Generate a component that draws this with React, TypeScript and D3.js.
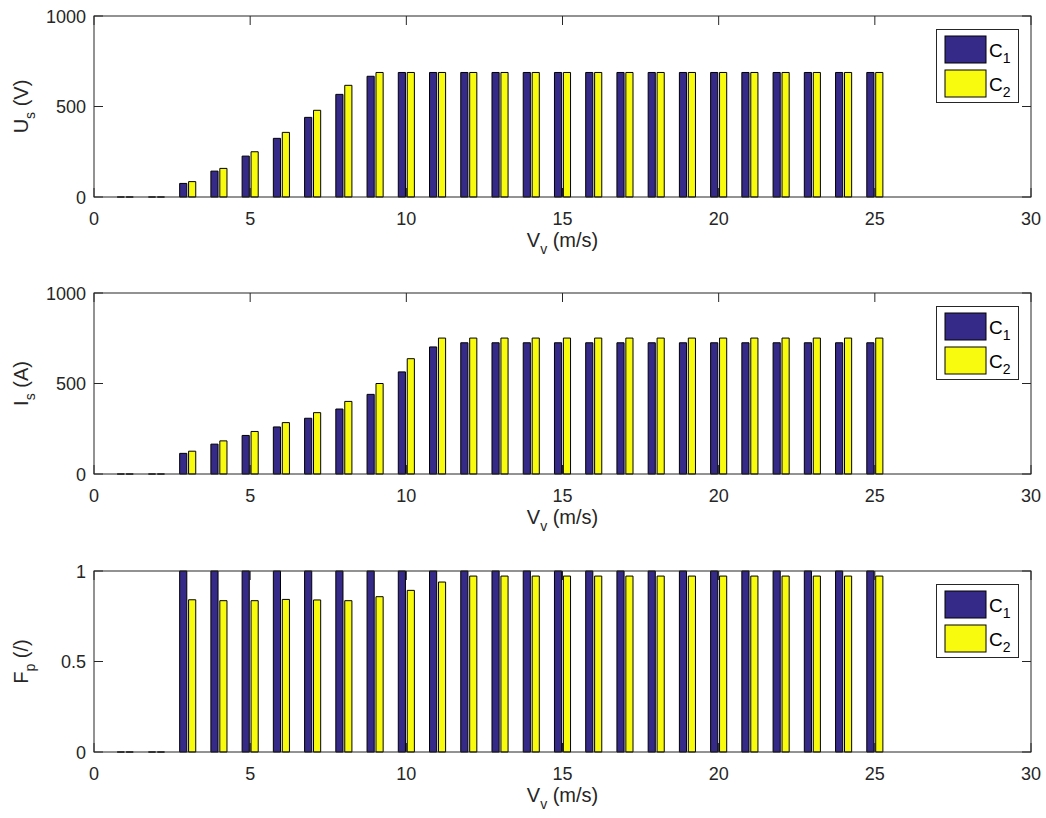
import React from "react";
import * as d3 from "d3";

const speeds = [1, 2, 3, 4, 5, 6, 7, 8, 9, 10, 11, 12, 13, 14, 15, 16, 17, 18, 19, 20, 21, 22, 23, 24, 25];

const usC1 = [0, 0, 75, 143, 226, 324, 440, 567, 667, 688, 688, 688, 688, 688, 688, 688, 688, 688, 688, 688, 688, 688, 688, 688, 688];
const usC2 = [0, 0, 85, 158, 250, 357, 479, 617, 688, 688, 688, 688, 688, 688, 688, 688, 688, 688, 688, 688, 688, 688, 688, 688, 688];

const isC1 = [0, 0, 114, 165, 213, 260, 308, 359, 440, 564, 702, 725, 725, 725, 725, 725, 725, 725, 725, 725, 725, 725, 725, 725, 725];
const isC2 = [0, 0, 126, 183, 235, 284, 339, 401, 500, 637, 751, 751, 751, 751, 751, 751, 751, 751, 751, 751, 751, 751, 751, 751, 751];

const fpC1 = [0, 0, 1, 1, 1, 1, 1, 1, 1, 1, 1, 1, 1, 1, 1, 1, 1, 1, 1, 1, 1, 1, 1, 1, 1];
const fpC2 = [0, 0, 0.841, 0.836, 0.836, 0.843, 0.84, 0.836, 0.858, 0.893, 0.939, 0.972, 0.972, 0.972, 0.972, 0.972, 0.972, 0.972, 0.972, 0.972, 0.972, 0.972, 0.972, 0.972, 0.972];

const xTicks = [0, 5, 10, 15, 20, 25, 30];
const seriesNames = ["C", "C"];
const seriesSubs = ["1", "2"];
const colors = ["#352a87", "#f9fb0e"];

const panels = [
  { top: 16, yMax: 1000, yTicks: [0, 500, 1000], yLab: "U", ySub: "s", yUnit: " (V)", s1: usC1, s2: usC2 },
  { top: 293, yMax: 1000, yTicks: [0, 500, 1000], yLab: "I", ySub: "s", yUnit: " (A)", s1: isC1, s2: isC2 },
  { top: 571, yMax: 1, yTicks: [0, 0.5, 1], yLab: "F", ySub: "p", yUnit: " (/)", s1: fpC1, s2: fpC2 },
];

const W = 1046;
const H = 818;
const left = 94;
const right = 1031;
const ph = 181;
const axisColor = "#262626";
const font = "'Liberation Sans', Arial, Helvetica, sans-serif";

const x = d3.scaleLinear().domain([0, 30]).range([left, right]);
const barW = 0.229;
const offs = [-0.143, 0.143];

function Panel({ p }: { p: typeof panels[number] }) {
  const y = d3.scaleLinear().domain([0, p.yMax]).range([p.top + ph, p.top]);
  const bottom = p.top + ph;
  const series = [p.s1, p.s2];
  const bars: JSX.Element[] = [];
  series.forEach((vals, si) => {
    vals.forEach((v, i) => {
      const cx = speeds[i] + offs[si];
      const x0 = x(cx - barW / 2);
      const x1 = x(cx + barW / 2);
      const y0 = y(0);
      const y1 = y(v);
      bars.push(
        <path
          key={`${si}-${i}`}
          d={`M${x0},${y0}V${y1}H${x1}V${y0}Z`}
          fill={colors[si]}
          stroke="#000"
          strokeWidth={1}
        />
      );
    });
  });
  const fmt = (v: number) => String(v);
  const legX = 936.5;
  const legY = p.top + 13.5;
  return (
    <g>
      {/* ticks */}
      {xTicks.map((t) => (
        <g key={`xt${t}`}>
          <line x1={x(t)} x2={x(t)} y1={bottom} y2={bottom - 9} stroke={axisColor} />
          <line x1={x(t)} x2={x(t)} y1={p.top} y2={p.top + 9} stroke={axisColor} />
          <text x={x(t)} y={bottom + 28} textAnchor="middle" fontSize={18} fill={axisColor} fontFamily={font}>
            {t}
          </text>
        </g>
      ))}
      {p.yTicks.map((t) => (
        <g key={`yt${t}`}>
          <line x1={left} x2={left + 9} y1={y(t)} y2={y(t)} stroke={axisColor} />
          <line x1={right} x2={right - 9} y1={y(t)} y2={y(t)} stroke={axisColor} />
          <text x={86} y={y(t) + 6.5} textAnchor="end" fontSize={18} fill={axisColor} fontFamily={font}>
            {fmt(t)}
          </text>
        </g>
      ))}
      {bars}
      <rect x={left} y={p.top} width={right - left} height={ph} fill="none" stroke={axisColor} strokeWidth={1} />
      {/* x label */}
      <text x={(left + right) / 2} y={bottom + 50} textAnchor="middle" fontSize={20} fill={axisColor} fontFamily={font}>
        V<tspan fontSize={14} dy={7}>v</tspan>
        <tspan dy={-7}> (m/s)</tspan>
      </text>
      {/* y label */}
      <text
        transform={`translate(28,${p.top + ph / 2}) rotate(-90)`}
        textAnchor="middle"
        fontSize={20}
        fill={axisColor}
        fontFamily={font}
      >
        {p.yLab}
        <tspan fontSize={14} dy={7}>{p.ySub}</tspan>
        <tspan dy={-7}>{p.yUnit}</tspan>
      </text>
      {/* legend */}
      <rect x={legX} y={legY} width={82} height={73} fill="#fff" stroke={axisColor} strokeWidth={1} />
      {[0, 1].map((k) => (
        <g key={`lg${k}`}>
          <rect x={945} y={legY + 6.5 + k * 34} width={41} height={27} fill={colors[k]} stroke="#000" strokeWidth={1} />
          <text x={989} y={legY + 27 + k * 34} fontSize={19} fill="#000" fontFamily={font}>
            {seriesNames[k]}
            <tspan fontSize={14} dy={6}>{seriesSubs[k]}</tspan>
          </text>
        </g>
      ))}
    </g>
  );
}

export default function App() {
  return (
    <svg width={W} height={H} style={{ display: "block", position: "absolute", left: 0, top: 0, background: "#fff" }}>
      <rect width={W} height={H} fill="#fff" />
      {panels.map((p, i) => (
        <Panel key={i} p={p} />
      ))}
    </svg>
  );
}
